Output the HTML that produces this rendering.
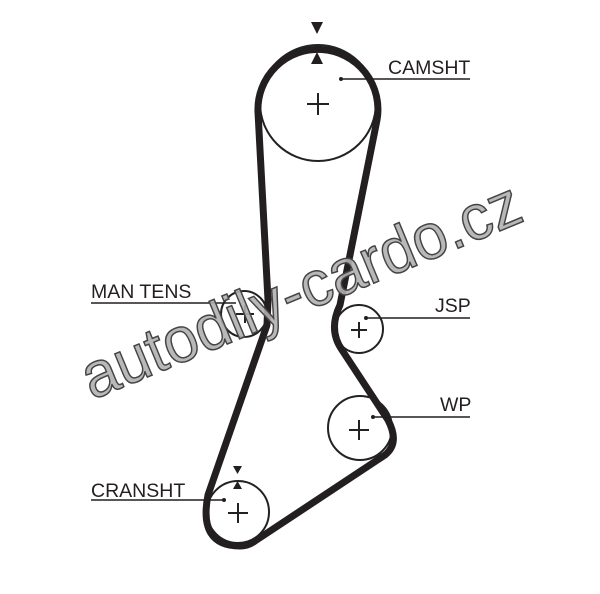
<!DOCTYPE html>
<html><head><style>html,body{margin:0;padding:0;background:#fff}</style></head><body>
<svg width="600" height="589" viewBox="0 0 600 589" xmlns="http://www.w3.org/2000/svg" font-family="Liberation Sans, sans-serif">
<rect width="600" height="589" fill="#fff"/>
<g fill="none" stroke="#222" stroke-width="2">
<circle cx="318" cy="103" r="58"/>
<circle cx="244" cy="314" r="23"/>
<circle cx="359" cy="329" r="24"/>
<circle cx="360" cy="428" r="32"/>
<circle cx="238" cy="512" r="31"/>
</g>
<g stroke="#222" stroke-width="2">
<line x1="307" y1="104" x2="329" y2="104"/><line x1="318" y1="93" x2="318" y2="115"/>
<line x1="236" y1="314" x2="254" y2="314"/><line x1="245" y1="305" x2="245" y2="323"/>
<line x1="351" y1="330" x2="367" y2="330"/><line x1="359" y1="322" x2="359" y2="338"/>
<line x1="349" y1="430" x2="369" y2="430"/><line x1="359" y1="420" x2="359" y2="440"/>
<line x1="228" y1="513" x2="248" y2="513"/><line x1="238" y1="503" x2="238" y2="523"/>
</g>
<path d="M377,120 A60 60 0 1 0 258,112 L268,300 L267,325 L208,495 Q198,546 240,546 Q248,546 255,541 L385,455 Q400,443 388,420 L342,350 Q328,330 340,305 L377,120 Z" fill="none" stroke="#231f20" stroke-width="7" stroke-linejoin="round"/>
<g fill="#231f20">
<polygon points="311,22 323,22 317,34"/>
<polygon points="311,64 323,64 317,52"/>
<polygon points="233,466 242,466 237.5,474"/>
<polygon points="233,489 242,489 237.5,481"/>
</g>
<g stroke="#231f20" stroke-width="1.6">
<line x1="341" y1="79" x2="470" y2="79"/>
<line x1="91" y1="303" x2="236" y2="303"/>
<line x1="366" y1="318" x2="470" y2="318"/>
<line x1="373" y1="417" x2="470" y2="417"/>
<line x1="91" y1="500" x2="224" y2="500"/>
</g>
<g fill="#231f20">
<circle cx="341" cy="79" r="2"/><circle cx="366" cy="318" r="2"/><circle cx="373" cy="417" r="2"/><circle cx="224" cy="500" r="2"/>
</g>
<g fill="#231f20" font-size="19.5">
<text x="388" y="74">CAMSHT</text>
<text x="91" y="298">MAN TENS</text>
<text x="435" y="312">JSP</text>
<text x="440" y="411">WP</text>
<text x="91" y="497">CRANSHT</text>
</g>
<text x="0" y="0" transform="translate(92,400) rotate(-22.5)" font-size="64" fill="#b0b0b0" stroke="#444" stroke-width="1.5" fill-opacity="0.9" textLength="470" lengthAdjust="spacingAndGlyphs">autodily-cardo.cz</text>
</svg>
</body></html>
